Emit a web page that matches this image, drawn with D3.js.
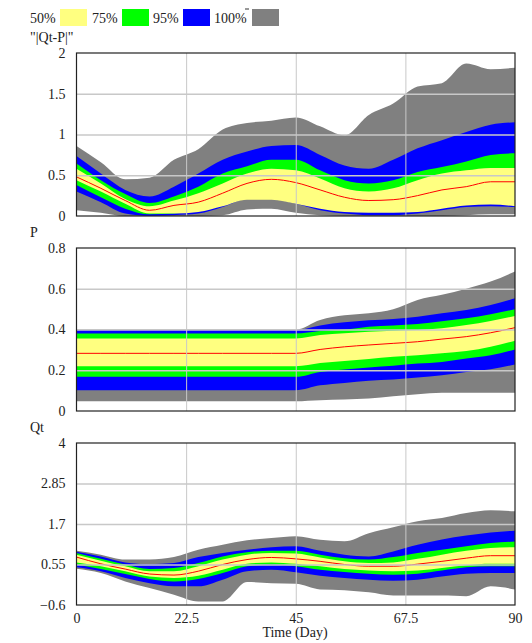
<!DOCTYPE html>
<html>
<head>
<meta charset="utf-8">
<script src="https://cdn.jsdelivr.net/npm/d3@7"></script>
<style>
    body { margin: 0; background: #fff; }
    svg { display: block; font-family: "Liberation Serif", "Times New Roman", serif; }
    .tick text { font-family: "Liberation Serif", "Times New Roman", serif; font-size: 14px; fill: #222; }
    .grid line { stroke: #c8c8c8; }
    .grid .domain { display: none; }
</style>
</head>
<body>
<div class="container"></div>
<script>
// time axis (days), one value every 5 days
const days = [0, 5, 10, 15, 20, 25, 30, 35, 40, 45, 50, 55, 60, 65, 70, 75, 80, 85, 90]
const xTicks = [0, 22.5, 45, 67.5, 90]

// legend
const bandNames = ["50%", "75%", "95%", "100%"]
const bandColors = ["#ffff80", "#00ff00", "#0000ff", "#808080"]

// "|Qt-P|"
const diffTicks = [0, 0.5, 1, 1.5, 2]
const diff100Hi = [0.86, 0.66, 0.45, 0.47, 0.69, 0.82, 1.06, 1.14, 1.17, 1.21, 1.10, 0.99, 1.24, 1.38, 1.59, 1.63, 1.87, 1.80, 1.82]
const diff100Lo = [0.07, 0.04, 0, 0, 0, 0, 0.01, 0.08, 0.09, 0.04, 0.01, 0, 0, 0, 0, 0, 0.01, 0.02, 0.02]
const diff95Hi = [0.735, 0.52, 0.32, 0.24, 0.36, 0.52, 0.69, 0.79, 0.86, 0.87, 0.75, 0.62, 0.58, 0.69, 0.83, 0.93, 1.03, 1.12, 1.15]
const diff95Lo = [0.30, 0.17, 0.03, 0, 0.01, 0.03, 0.11, 0.21, 0.21, 0.15, 0.07, 0.03, 0.01, 0.01, 0.03, 0.07, 0.11, 0.12, 0.11]
const diff75Hi = [0.645, 0.44, 0.27, 0.16, 0.24, 0.36, 0.52, 0.61, 0.69, 0.69, 0.56, 0.44, 0.40, 0.44, 0.54, 0.60, 0.67, 0.75, 0.77]
const diff75Lo = [0.38, 0.23, 0.09, 0.02, 0.03, 0.09, 0.19, 0.30, 0.30, 0.23, 0.13, 0.07, 0.05, 0.06, 0.09, 0.15, 0.20, 0.21, 0.19]
const diff50Hi = [0.58, 0.40, 0.21, 0.12, 0.19, 0.28, 0.40, 0.52, 0.58, 0.56, 0.46, 0.34, 0.30, 0.34, 0.44, 0.52, 0.56, 0.59, 0.59]
const diff50Lo = [0.44, 0.30, 0.15, 0.03, 0.03, 0.05, 0.12, 0.20, 0.20, 0.15, 0.09, 0.05, 0.04, 0.04, 0.05, 0.09, 0.13, 0.14, 0.12]
const diffMedian = [0.48, 0.34, 0.19, 0.07, 0.13, 0.17, 0.28, 0.40, 0.45, 0.41, 0.32, 0.23, 0.19, 0.20, 0.25, 0.32, 0.36, 0.42, 0.42]

// P
const pTicks = [0, 0.2, 0.4, 0.6, 0.8]
const p100Hi = [0.40, 0.40, 0.40, 0.40, 0.40, 0.40, 0.40, 0.40, 0.40, 0.40, 0.447, 0.47, 0.48, 0.50, 0.545, 0.57, 0.60, 0.635, 0.685]
const p100Lo = [0.048, 0.048, 0.048, 0.048, 0.048, 0.048, 0.048, 0.048, 0.048, 0.048, 0.053, 0.056, 0.061, 0.072, 0.082, 0.089, 0.09, 0.09, 0.09]
const p95Hi = [0.397, 0.397, 0.397, 0.397, 0.397, 0.397, 0.397, 0.397, 0.397, 0.397, 0.42, 0.435, 0.445, 0.452, 0.463, 0.48, 0.496, 0.52, 0.553]
const p95Lo = [0.102, 0.102, 0.102, 0.102, 0.102, 0.102, 0.102, 0.102, 0.102, 0.102, 0.126, 0.138, 0.148, 0.154, 0.164, 0.176, 0.192, 0.205, 0.228]
const p75Hi = [0.38, 0.38, 0.38, 0.38, 0.38, 0.38, 0.38, 0.38, 0.38, 0.38, 0.393, 0.40, 0.414, 0.42, 0.427, 0.44, 0.455, 0.475, 0.50]
const p75Lo = [0.168, 0.168, 0.168, 0.168, 0.168, 0.168, 0.168, 0.168, 0.168, 0.168, 0.192, 0.204, 0.214, 0.222, 0.233, 0.241, 0.258, 0.274, 0.302]
const p50Hi = [0.356, 0.356, 0.356, 0.356, 0.356, 0.356, 0.356, 0.356, 0.356, 0.356, 0.373, 0.381, 0.389, 0.394, 0.397, 0.406, 0.422, 0.442, 0.466]
const p50Lo = [0.22, 0.22, 0.22, 0.22, 0.22, 0.22, 0.22, 0.22, 0.22, 0.22, 0.236, 0.246, 0.255, 0.266, 0.274, 0.283, 0.294, 0.315, 0.345]
const pMedian = [0.283, 0.283, 0.283, 0.283, 0.283, 0.283, 0.283, 0.283, 0.283, 0.283, 0.302, 0.315, 0.324, 0.332, 0.34, 0.353, 0.365, 0.384, 0.409]

// Qt
const qtTicks = [-0.6, 0.55, 1.7, 2.85, 4]
const qt100Hi = [0.94, 0.83, 0.69, 0.69, 0.76, 0.97, 1.11, 1.24, 1.30, 1.35, 1.25, 1.21, 1.44, 1.61, 1.78, 1.87, 2.01, 2.09, 2.06]
const qt100Lo = [0.43, 0.31, 0.07, -0.12, -0.31, -0.50, -0.50, 0.05, 0.02, 0.00, -0.16, -0.18, -0.24, -0.33, -0.33, -0.33, -0.35, -0.07, -0.16]
const qt95Hi = [0.91, 0.78, 0.61, 0.56, 0.59, 0.76, 0.88, 0.97, 1.04, 1.07, 0.94, 0.83, 0.78, 0.92, 1.11, 1.26, 1.37, 1.46, 1.51]
const qt95Lo = [0.47, 0.36, 0.17, 0.02, -0.07, -0.07, 0.12, 0.36, 0.40, 0.33, 0.23, 0.17, 0.12, 0.09, 0.12, 0.21, 0.29, 0.31, 0.31]
const qt75Hi = [0.88, 0.71, 0.55, 0.42, 0.45, 0.59, 0.78, 0.90, 0.94, 0.94, 0.83, 0.73, 0.69, 0.76, 0.88, 0.97, 1.07, 1.16, 1.20]
const qt75Lo = [0.55, 0.42, 0.28, 0.14, 0.07, 0.14, 0.31, 0.50, 0.55, 0.50, 0.40, 0.34, 0.29, 0.26, 0.29, 0.38, 0.47, 0.50, 0.50]
const qt50Hi = [0.83, 0.66, 0.50, 0.36, 0.36, 0.50, 0.69, 0.83, 0.88, 0.86, 0.75, 0.64, 0.59, 0.61, 0.71, 0.83, 0.94, 1.02, 1.04]
const qt50Lo = [0.61, 0.50, 0.36, 0.21, 0.17, 0.23, 0.40, 0.57, 0.61, 0.57, 0.50, 0.42, 0.38, 0.36, 0.38, 0.45, 0.53, 0.57, 0.57]
const qtMedian = [0.76, 0.57, 0.42, 0.28, 0.25, 0.36, 0.55, 0.69, 0.75, 0.71, 0.64, 0.55, 0.50, 0.50, 0.56, 0.64, 0.73, 0.80, 0.80]

const FONT = "Liberation Serif, Times New Roman, serif"

class Chart {
    constructor(div) {
        this.div = div
        this.width = 532
        this.height = 643
    }

    createGraph() {
        // svg container
        this.svg = d3.select(this.div).append("svg")
            .attr("width", this.width)
            .attr("height", this.height)
            .attr("font-family", FONT)

        // shared time scale
        this.x = d3.scaleLinear().domain([0, 90]).range([76.5, 515])

        this.drawLegend()

        // the three panels, bands from widest to narrowest
        this.drawPanel({
            title: "\"|Qt-P|\"", titleY: 42, top: 53, bottom: 216,
            domain: [0, 2], ticks: diffTicks,
            bands: [[diff100Lo, diff100Hi], [diff95Lo, diff95Hi], [diff75Lo, diff75Hi], [diff50Lo, diff50Hi]],
            median: diffMedian
        })
        this.drawPanel({
            title: "P", titleY: 237, top: 248, bottom: 411,
            domain: [0, 0.8], ticks: pTicks,
            bands: [[p100Lo, p100Hi], [p95Lo, p95Hi], [p75Lo, p75Hi], [p50Lo, p50Hi]],
            median: pMedian
        })
        this.drawPanel({
            title: "Qt", titleY: 432, top: 443, bottom: 605,
            domain: [-0.6, 4], ticks: qtTicks,
            bands: [[qt100Lo, qt100Hi], [qt95Lo, qt95Hi], [qt75Lo, qt75Hi], [qt50Lo, qt50Hi]],
            median: qtMedian, xLabels: true
        })
    }

    drawLegend() {
        // label followed by a colour swatch
        const items = [
            { tx: 30, sx: 60 }, { tx: 92, sx: 122 }, { tx: 153, sx: 183 }, { tx: 214, sx: 252 }
        ]
        const g = this.svg.append("g").attr("class", "legend")
        items.forEach((it, i) => {
            g.append("text")
                .attr("x", it.tx).attr("y", 23)
                .attr("font-family", FONT)
                .style("font-size", "14px").style("fill", "#222")
                .text(bandNames[i])
            g.append("rect")
                .attr("x", it.sx).attr("y", 9)
                .attr("width", 27).attr("height", 17)
                .attr("fill", bandColors[i])
        })
        // small stray mark after "100%"
        g.append("line")
            .attr("x1", 245).attr("x2", 249).attr("y1", 9).attr("y2", 9)
            .attr("stroke", "#333")
    }

    drawPanel(opt) {
        const x = this.x
        const y = d3.scaleLinear().domain(opt.domain).range([opt.bottom, opt.top])
        const plotW = x.range()[1] - x.range()[0]
        const g = this.svg.append("g")

        // panel title
        this.svg.append("text")
            .attr("x", 30).attr("y", opt.titleY)
            .attr("font-family", FONT)
            .style("font-size", "14px").style("fill", "#222")
            .text(opt.title)

        // bands, 100% first so narrower ones sit on top
        const colorOrder = [bandColors[3], bandColors[2], bandColors[1], bandColors[0]]
        opt.bands.forEach((b, i) => {
            const area = d3.area()
                .x((d, j) => x(days[j]))
                .y0((d, j) => y(b[0][j]))
                .y1((d, j) => y(b[1][j]))
                .curve(d3.curveMonotoneX)
            g.append("path")
                .datum(days)
                .attr("d", area)
                .attr("fill", colorOrder[i])
        })

        // median line
        const line = d3.line()
            .x((d, j) => x(days[j]))
            .y((d) => y(d))
            .curve(d3.curveMonotoneX)
        g.append("path")
            .datum(opt.median)
            .attr("d", line)
            .attr("fill", "none")
            .attr("stroke", "#ff0000")
            .attr("stroke-width", 1)

        // grid lines drawn over the bands
        g.append("g")
            .attr("class", "grid")
            .attr("transform", "translate(" + x.range()[0] + ",0)")
            .call(d3.axisLeft(y).tickValues(opt.ticks.slice(1, -1)).tickSize(-plotW).tickFormat(""))
            .selectAll("line").attr("stroke-width", 1.5)
        g.append("g")
            .attr("class", "grid")
            .attr("transform", "translate(0," + opt.bottom + ")")
            .call(d3.axisBottom(x).tickValues(xTicks.slice(1, -1)).tickSize(-(opt.bottom - opt.top)).tickFormat(""))

        // frame
        g.append("rect")
            .attr("x", x.range()[0]).attr("y", opt.top)
            .attr("width", plotW).attr("height", opt.bottom - opt.top)
            .attr("fill", "none").attr("stroke", "#222").attr("stroke-width", 1.2)

        // y tick labels
        const yAxis = g.append("g")
            .attr("transform", "translate(" + (x.range()[0] - 11) + ",0)")
            .call(d3.axisLeft(y).tickValues(opt.ticks).tickSize(0).tickPadding(0).tickFormat(d3.format("")))
            .attr("font-family", FONT)
            .attr("font-size", 14)
        yAxis.select(".domain").remove()

        // x tick labels and axis title on the bottom panel only
        if (opt.xLabels) {
            const xAxis = g.append("g")
                .attr("transform", "translate(0," + opt.bottom + ")")
                .call(d3.axisBottom(x).tickValues(xTicks).tickSize(0).tickPadding(8).tickFormat(d3.format("")))
                .attr("font-family", FONT)
                .attr("font-size", 14)
            xAxis.select(".domain").remove()

            this.svg.append("text")
                .attr("x", 295).attr("y", 637)
                .attr("text-anchor", "middle")
                .attr("font-family", FONT)
                .style("font-size", "14px").style("fill", "#222")
                .text("Time (Day)")
        }
    }

    run() {
        this.createGraph()
    }
}

let container = document.querySelector("div.container")

let chart = new Chart(container)

chart.run()
</script>
</body>
</html>
